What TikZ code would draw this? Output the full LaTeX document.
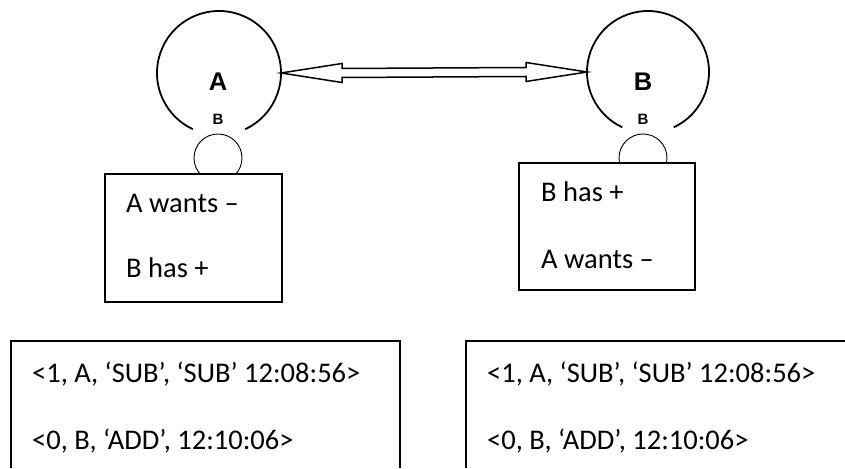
\documentclass[tikz,border=0pt]{standalone}
\usepackage{fontspec}
\setmainfont{Carlito}
\newfontfamily\labfont{Liberation Sans}
\usetikzlibrary{calc}

\tikzset{
  ring/.style={line width=1.8pt},
  hub/.style={circle, inner sep=0pt, outer sep=0pt},
  socket/.style={line width=0.9pt},
  panel/.style={draw, line width=1.8pt, fill=white},
  arrowline/.style={line width=1.5pt, line join=miter, fill=white},
  body/.style={anchor=base west, inner sep=0pt, font=\fontsize{28.5}{34}\selectfont},
  biglabel/.style={inner sep=0pt, font=\labfont\bfseries\fontsize{25.5}{30}\selectfont},
  smalllabel/.style={inner sep=0pt, font=\labfont\bfseries\fontsize{15}{18}\selectfont},
  record/.style={line width=1.8pt}
}

\begin{document}
\begin{tikzpicture}[x=1pt, y=1pt]
  \useasboundingbox (0,0) rectangle (845,468);

  % the two parties
  \node[hub, minimum size=124pt] (A) at (219,395) {};
  \node[hub, minimum size=122pt] (B) at (648,396) {};
  \draw[ring] (A.-65) arc[start angle=-65, end angle=245, radius=62];
  \draw[ring] (B.-65) arc[start angle=-65, end angle=245, radius=61];
  \node[biglabel] (Alab) at (218,386) {A};
  \node[biglabel] (Blab) at (643,386) {B};
  \node[smalllabel] (Asub) at (218,349) {B};
  \node[smalllabel] (Bsub) at (643,349) {B};

  % double-outlined exchange arrow between the parties
  \draw[arrowline] (A.east) -- ++(61,9.5) -- ++(0,-5)
    -- ($(B.west)+(-61,4.5)$) -- ++(0,5) -- (B.west)
    -- ++(-61,-9.5) -- ++(0,5)
    -- ($(A.east)+(61,-4.5)$) -- ++(0,-5) -- cycle;

  % sockets sitting on the state panels
  \node[hub, draw, socket, minimum size=48pt] (sa) at (218,310) {};
  \node[hub, draw, socket, minimum size=48pt] (sb) at (643,310) {};

  % state panels
  \path[panel] (105,166) rectangle (282,294);
  \path[panel] (519,178) rectangle (695,305);
  \node[body] (a1) at (126,255) {A wants –};
  \node[body] (a2) at (126,190) {B has +};
  \node[body] (b1) at (541,266) {B has +};
  \node[body] (b2) at (541,199) {A wants –};

  % log records, open at the bottom
  \coordinate (la) at (11,0);
  \coordinate (ra) at (400,0);
  \coordinate (lb) at (466,0);
  \coordinate (rb) at (850,0);
  \draw[record] (la) |- (400,127) -- (ra);
  \draw[record] (lb) |- (rb |- 0,127);
  \node[body] (l1) at (32,85) {<1, A, ‘SUB’, ‘SUB’ 12:08:56>};
  \node[body] (l2) at (32,18) {<0, B, ‘ADD’, 12:10:06>};
  \node[body] (r1) at (487,85) {<1, A, ‘SUB’, ‘SUB’ 12:08:56>};
  \node[body] (r2) at (487,18) {<0, B, ‘ADD’, 12:10:06>};
\end{tikzpicture}
\end{document}
